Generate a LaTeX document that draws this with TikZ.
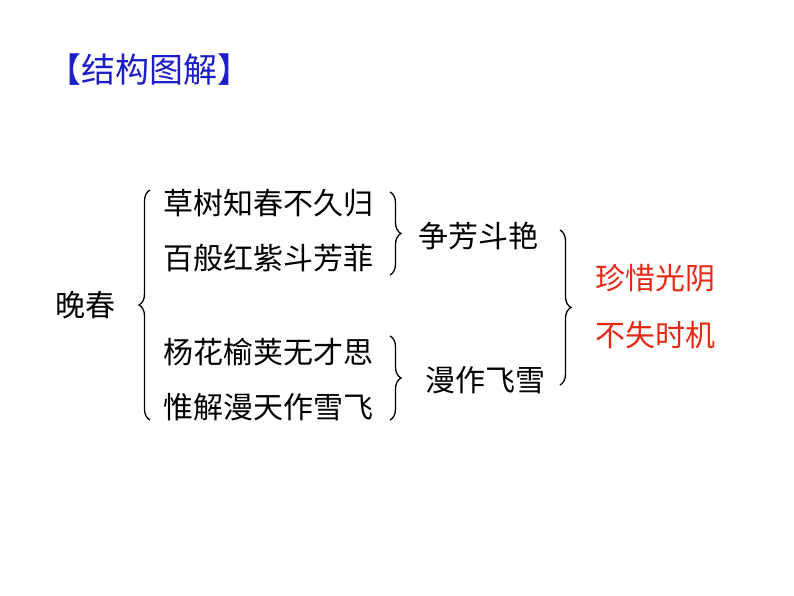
\documentclass[tikz,border=0pt]{standalone}
\usepackage{fontspec}
\newfontfamily\cjk{Noto Sans CJK SC}
\usetikzlibrary{decorations.pathreplacing}
\begin{document}
\begin{tikzpicture}[x=1pt,y=-1pt,
  txt/.style={font=\cjk\fontsize{30}{32}\selectfont,anchor=west,inner sep=0pt},
  red/.style={txt,text={rgb,255:red,230;green,40;blue,20}},
  brc/.style={decorate,decoration={brace,amplitude=11pt},line width=1.3pt}]
\useasboundingbox (0,0) rectangle (794,596);
\node[txt,font=\cjk\fontsize{34}{36}\selectfont,text={rgb,255:red,30;green,30;blue,200}] (title) at (47,70) {【结构图解】};
\node[txt] (wc) at (55,305) {晚春};
\node[txt] (a1) at (163,203) {草树知春不久归};
\node[txt] (a2) at (163,258) {百般红紫斗芳菲};
\node[txt] (b1) at (163,352) {杨花榆荚无才思};
\node[txt] (b2) at (163,407) {惟解漫天作雪飞};
\node[txt] (s1) at (418,236) {争芳斗艳};
\node[txt] (s2) at (425,380) {漫作飞雪};
\node[red] (r1) at (595,278) {珍惜光阴};
\node[red] (r2) at (595,335) {不失时机};
\draw[brc] (150,420) -- (150,190);
\draw[brc] (390,192) -- (390,275);
\draw[brc] (390,336) -- (390,420);
\draw[brc] (560,230) -- (560,385);
\end{tikzpicture}
\end{document}
